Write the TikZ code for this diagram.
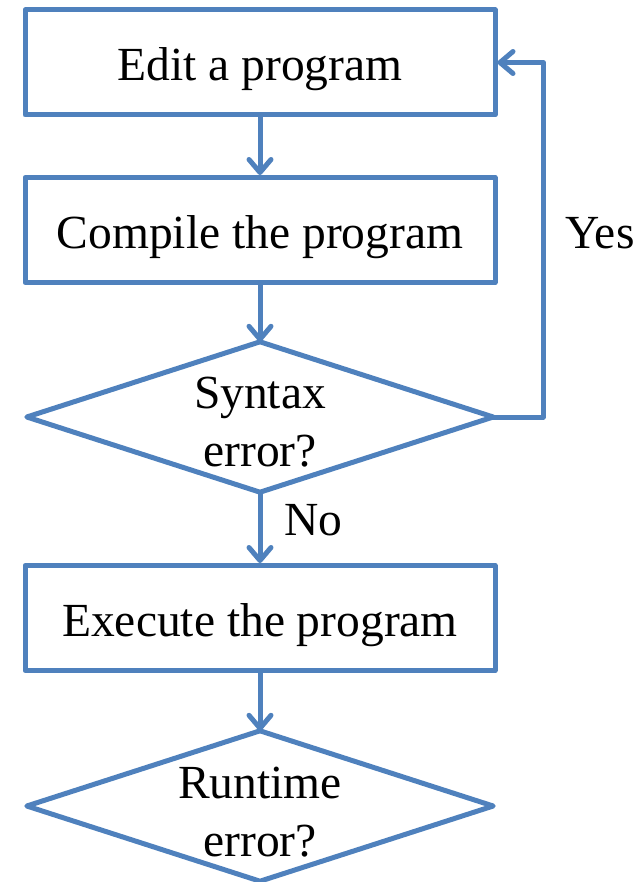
\documentclass[tikz,border=0pt]{standalone}
\usepackage{fontspec}
\setmainfont{Liberation Serif}
\usetikzlibrary{arrows.meta}
\definecolor{flowblue}{HTML}{4F81BD}
\begin{document}
\begin{tikzpicture}[x=1pt,y=-1pt,
  txt/.style={font=\fontsize{47.5}{58}\selectfont, text=black},
  procbox/.style={txt, draw=flowblue, line width=5pt, line join=round, minimum width=470pt, minimum height=105pt, inner sep=0pt, text height=40pt, text depth=3pt},
  decbox/.style={minimum width=466pt, minimum height=150pt, inner sep=0pt},
  dectext/.style={txt, align=center, inner sep=0pt},
  decline/.style={draw=flowblue, line width=5pt, line join=round},
  arr/.style={draw=flowblue, line width=5pt, line join=round, -{Straight Barb[length=13pt,width=22pt,line join=round,line cap=round]}}
]
\useasboundingbox (0,0) rectangle (642,882);
\node[procbox] (edit) at (260,62.5) {Edit a program};
\node[procbox] (comp) at (260,230) {Compile the program};
\node[decbox] (syn) at (260,417) {};
\draw[decline] (syn.north) -- (syn.east) -- (syn.south) -- (syn.west) -- cycle;
\node[dectext] (syntxt) at (260,422) {Syntax\\error?};
\node[procbox] (exec) at (260,618) {Execute the program};
\node[decbox] (run) at (260,806) {};
\draw[decline] (run.north) -- (run.east) -- (run.south) -- (run.west) -- cycle;
\node[dectext] (runtxt) at (260,812) {Runtime\\error?};
\draw[arr] (edit.south) -- (comp.north);
\draw[arr] (comp.south) -- (syn.north);
\draw[arr] (syn.south) -- (exec.north);
\draw[arr] (exec.south) -- (run.north);
\draw[arr] (syn.east) -- ++(50,0) |- (edit.east);
\node[txt] (yes) at (600,233) {Yes};
\node[txt, anchor=west, inner sep=0pt] (no) at (284,520) {No};
\end{tikzpicture}
\end{document}
